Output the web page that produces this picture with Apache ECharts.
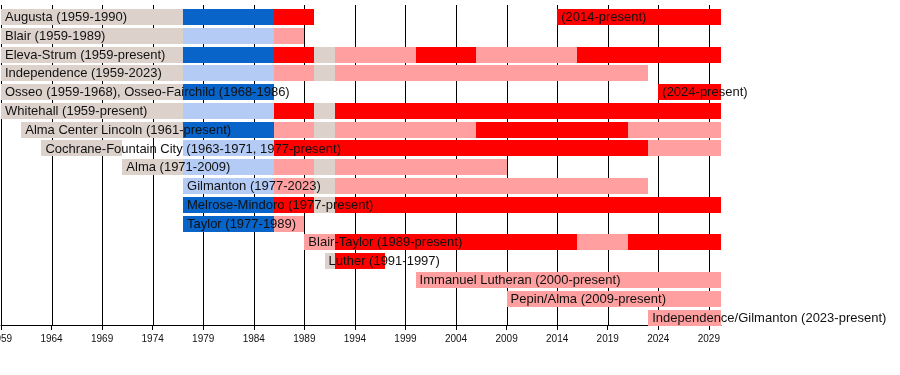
<!DOCTYPE html>
<html>
<head>
<meta charset="utf-8">
<script src="https://cdn.jsdelivr.net/npm/echarts@6/dist/echarts.min.js"></script>
<style>
  html, body { margin: 0; padding: 0; background: #fff; }
  #chart { width: 900px; height: 375px; }
</style>
</head>
<body>
<div id="chart"></div>
<script>
// "present" is drawn out to the right edge of the timeline
var PRESENT = 2030.2;

// year ticks along the bottom (every 5 years, starting 1959)
var tickYears = [1959, 1964, 1969, 1974, 1979, 1984, 1989, 1994, 1999, 2004, 2009, 2014, 2019, 2024, 2029];

// segments: [row, from, to, kind]
// kinds: pre = before 1977, blue / lblue = 1977-1986, red / lred = after 1986
var segments = [
    [0, 1959, 1977, 'pre'], [0, 1977, 1986, 'blue'], [0, 1986, 1990, 'red'], [0, 2014, PRESENT, 'red'],
    [1, 1959, 1977, 'pre'], [1, 1977, 1986, 'lblue'], [1, 1986, 1989, 'lred'],
    [2, 1959, 1977, 'pre'], [2, 1977, 1986, 'blue'], [2, 1986, 1990, 'red'], [2, 1990, 1992, 'pre'],
    [2, 1992, 2000, 'lred'], [2, 2000, 2006, 'red'], [2, 2006, 2016, 'lred'], [2, 2016, PRESENT, 'red'],
    [3, 1959, 1977, 'pre'], [3, 1977, 1986, 'lblue'], [3, 1986, 1990, 'lred'], [3, 1990, 1992, 'pre'], [3, 1992, 2023, 'lred'],
    [4, 1959, 1977, 'pre'], [4, 1977, 1986, 'blue'], [4, 2024, PRESENT, 'red'],
    [5, 1959, 1977, 'pre'], [5, 1977, 1986, 'lblue'], [5, 1986, 1990, 'red'], [5, 1990, 1992, 'pre'], [5, 1992, PRESENT, 'red'],
    [6, 1961, 1977, 'pre'], [6, 1977, 1986, 'blue'], [6, 1986, 1990, 'lred'], [6, 1990, 1992, 'pre'],
    [6, 1992, 2006, 'lred'], [6, 2006, 2021, 'red'], [6, 2021, PRESENT, 'lred'],
    [7, 1963, 1971, 'pre'], [7, 1977, 1986, 'lblue'], [7, 1986, 2023, 'red'], [7, 2023, PRESENT, 'lred'],
    [8, 1971, 1977, 'pre'], [8, 1977, 1986, 'lblue'], [8, 1986, 1990, 'lred'], [8, 1990, 1992, 'pre'], [8, 1992, 2009, 'lred'],
    [9, 1977, 1986, 'lblue'], [9, 1986, 1990, 'lred'], [9, 1990, 1992, 'pre'], [9, 1992, 2023, 'lred'],
    [10, 1977, 1986, 'blue'], [10, 1986, 1990, 'red'], [10, 1990, 1992, 'pre'], [10, 1992, PRESENT, 'red'],
    [11, 1977, 1986, 'blue'], [11, 1986, 1989, 'lred'],
    [12, 1989, 1992, 'lred'], [12, 1992, 2016, 'red'], [12, 2016, 2021, 'lred'], [12, 2021, PRESENT, 'red'],
    [13, 1991, 1992, 'pre'], [13, 1992, 1997, 'red'],
    [14, 2000, PRESENT, 'lred'],
    [15, 2009, PRESENT, 'lred'],
    [16, 2023, PRESENT, 'lred']
];

// labels: [row, year the label starts at, text]
var labels = [
    [0, 1959, 'Augusta (1959-1990)'],
    [0, 2014, '(2014-present)'],
    [1, 1959, 'Blair (1959-1989)'],
    [2, 1959, 'Eleva-Strum (1959-present)'],
    [3, 1959, 'Independence (1959-2023)'],
    [4, 1959, 'Osseo (1959-1968), Osseo-Fairchild (1968-1986)'],
    [4, 2024, '(2024-present)'],
    [5, 1959, 'Whitehall (1959-present)'],
    [6, 1961, 'Alma Center Lincoln (1961-present)'],
    [7, 1963, 'Cochrane-Fountain City (1963-1971, 1977-present)'],
    [8, 1971, 'Alma (1971-2009)'],
    [9, 1977, 'Gilmanton (1977-2023)'],
    [10, 1977, 'Melrose-Mindoro (1977-present)'],
    [11, 1977, 'Taylor (1977-1989)'],
    [12, 1989, 'Blair-Taylor (1989-present)'],
    [13, 1991, 'Luther (1991-1997)'],
    [14, 2000, 'Immanuel Lutheran (2000-present)'],
    [15, 2009, 'Pepin/Alma (2009-present)'],
    [16, 2023, 'Independence/Gilmanton (2023-present)']
];

var kindColor = {
    pre: '#dcd2cb',
    blue: '#0864c8',
    lblue: '#b4cbf5',
    red: '#ff0000',
    lred: '#ff9f9f'
};

var chart = echarts.init(document.getElementById('chart'), null, { renderer: 'canvas' });

var option = {
    animation: false,
    backgroundColor: '#fff',
    grid: { left: 1, right: 179, top: 5, bottom: 50, containLabel: false, outerBoundsMode: 'none' },
    xAxis: {
        type: 'value',
        min: 1959,
        max: PRESENT,
        axisLine: { show: true, onZero: false, lineStyle: { color: '#000', width: 1 } },
        axisTick: { show: true, length: 5, customValues: tickYears, lineStyle: { color: '#000' } },
        axisLabel: {
            customValues: tickYears,
            color: '#111',
            fontSize: 10,
            fontFamily: 'Liberation Sans',
            margin: 9,
            formatter: function (v) { return String(v); }
        },
        splitLine: { show: false }
    },
    yAxis: {
        type: 'value',
        inverse: true,
        min: -0.639,
        max: 16.4,
        show: false
    },
    series: [
        {
            // vertical grid lines, behind the bars
            type: 'custom',
            z: 1,
            silent: true,
            data: tickYears.map(function (y) { return [y]; }),
            encode: { x: 0 },
            renderItem: function (params, api) {
                var cs = params.coordSys;
                var x = Math.round(api.coord([api.value(0), 0])[0]) + 0.5;
                return {
                    type: 'line',
                    shape: { x1: x, y1: cs.y, x2: x, y2: cs.y + cs.height },
                    style: { stroke: '#000', lineWidth: 1 }
                };
            }
        },
        {
            type: 'custom',
            z: 2,
            silent: true,
            data: segments.map(function (s) { return [s[0], s[1], s[2]]; }),
            encode: { x: [1, 2], y: 0 },
            renderItem: function (params, api) {
                var seg = segments[params.dataIndex];
                var p0 = api.coord([api.value(1), api.value(0)]);
                var p1 = api.coord([api.value(2), api.value(0)]);
                var h = api.size([0, 1])[1] * 0.85;
                return {
                    type: 'rect',
                    shape: { x: Math.round(p0[0]), y: Math.round(p0[1] - h / 2), width: Math.round(p1[0]) - Math.round(p0[0]), height: Math.round(h) },
                    style: { fill: kindColor[seg[3]] }
                };
            }
        },
        {
            type: 'custom',
            z: 3,
            silent: true,
            data: labels.map(function (l) { return [l[0], l[1]]; }),
            encode: { x: 1, y: 0 },
            renderItem: function (params, api) {
                var p = api.coord([api.value(1), api.value(0)]);
                return {
                    type: 'text',
                    x: p[0] + 4,
                    y: p[1] + 0.5,
                    style: {
                        text: labels[params.dataIndex][2],
                        fill: '#111',
                        font: '13px "Liberation Sans"',
                        verticalAlign: 'middle',
                        align: 'left'
                    }
                };
            }
        }
    ]
};

chart.setOption(option);
</script>
</body>
</html>
